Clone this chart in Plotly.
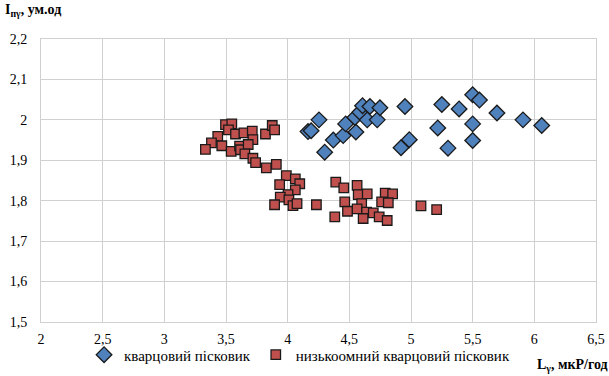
import plotly.graph_objects as go

# кварцовий пісковик
blue_x = [4.254, 4.165, 4.19, 4.30, 4.37, 4.45, 4.47, 4.553, 4.545, 4.585, 4.607, 4.667,
          4.645, 4.726, 4.748, 4.951, 4.919, 4.986, 5.25, 5.217, 5.39, 5.30, 5.50, 5.555,
          5.50, 5.50, 5.697, 5.908, 6.06]
blue_y = [2.0, 1.971, 1.973, 1.92, 1.95, 1.961, 1.99, 1.97, 2.006, 2.019, 2.035, 2.033,
          2.0, 2.0, 2.03, 2.033, 1.931, 1.951, 2.038, 1.98, 2.027, 1.93, 2.062, 2.049,
          1.99, 1.949, 2.017, 2.0, 1.986]

# низькоомний кварцовий пісковик
red_x = [3.496, 3.547, 3.52, 3.577, 3.645, 3.713, 3.718, 3.433, 3.382, 3.333, 3.466, 3.542,
         3.61, 3.618, 3.68, 3.653, 3.718, 3.74, 3.82, 3.875, 3.894, 3.827, 3.908,
         3.989, 4.062, 4.098, 3.935, 4.062, 4.003, 3.94, 4.01, 3.894, 4.043, 4.076, 4.233,
         4.39, 4.455, 4.563, 4.572, 4.645, 4.791, 4.851, 4.762, 4.816, 4.463, 4.60, 4.563,
         4.485, 4.64, 4.694, 4.742, 4.807, 4.612, 4.382, 5.081, 5.208]
red_y = [1.988, 1.99, 1.975, 1.965, 1.968, 1.972, 1.951, 1.959, 1.943, 1.927, 1.936, 1.922,
         1.935, 1.926, 1.939, 1.916, 1.905, 1.894, 1.965, 1.986, 1.975, 1.881, 1.89,
         1.862, 1.854, 1.842, 1.84, 1.827, 1.815, 1.809, 1.802, 1.79, 1.788, 1.793, 1.79,
         1.846, 1.832, 1.838, 1.815, 1.817, 1.819, 1.817, 1.797, 1.795, 1.797, 1.793, 1.78,
         1.774, 1.772, 1.77, 1.76, 1.751, 1.756, 1.76, 1.787, 1.778]

x_ticks = [2, 2.5, 3, 3.5, 4, 4.5, 5, 5.5, 6, 6.5]
x_labels = ["2", "2,5", "3", "3,5", "4", "4,5", "5", "5,5", "6", "6,5"]
y_ticks = [1.5, 1.6, 1.7, 1.8, 1.9, 2.0, 2.1, 2.2]
y_labels = ["1,5", "1,6", "1,7", "1,8", "1,9", "2", "2,1", "2,2"]

FONT = "'Liberation Serif', 'Times New Roman', 'DejaVu Serif', serif"

fig = go.Figure()
fig.add_trace(go.Scatter(
    x=blue_x, y=blue_y, mode="markers", name="кварцовий пісковик",
    marker=dict(symbol="diamond", size=12, color="#4F81BD",
                line=dict(color="#1a1a1a", width=1.3)),
))
fig.add_trace(go.Scatter(
    x=red_x, y=red_y, mode="markers", name="низькоомний кварцовий пісковик",
    marker=dict(symbol="square", size=9.5, color="#C0504D",
                line=dict(color="#1a1a1a", width=1.3)),
))

fig.update_layout(
    width=609, height=376,
    margin=dict(l=41, r=13, t=39, b=54, autoexpand=False),
    paper_bgcolor="white", plot_bgcolor="white",
    font=dict(family=FONT, size=14, color="black"),
    showlegend=True,
    legend=dict(orientation="h", xref="container", yref="container",
                x=0.138, xanchor="left", y=0.056, yanchor="middle",
                font=dict(family=FONT, size=15, color="black"),
                itemwidth=30, tracegroupgap=0, bgcolor="rgba(0,0,0,0)"),
    xaxis=dict(range=[2, 6.5], tickvals=x_ticks, ticktext=x_labels,
               showgrid=True, gridcolor="#d0d0d0", gridwidth=1,
               showline=True, linecolor="#d0d0d0", mirror=True,
               zeroline=False, ticks="", ticklen=0, ticklabelstandoff=4,
               tickfont=dict(family=FONT, size=14)),
    yaxis=dict(range=[1.5, 2.2], tickvals=y_ticks, ticktext=y_labels,
               showgrid=True, gridcolor="#d0d0d0", gridwidth=1,
               showline=True, linecolor="#d0d0d0", mirror=True,
               zeroline=False, ticks="", ticklen=0, ticklabelstandoff=10,
               tickfont=dict(family=FONT, size=14)),
    annotations=[
        dict(text="<b>I<sub>пγ</sub>, ум.од</b>", xref="paper", yref="paper",
             x=-0.068, y=1.1, xanchor="left", yanchor="middle", showarrow=False,
             font=dict(family=FONT, size=14, color="black")),
        dict(text="<b>L<sub>γ</sub>, мкР/год</b>", xref="paper", yref="paper",
             x=1.025, y=-0.155, xanchor="right", yanchor="middle", showarrow=False,
             font=dict(family=FONT, size=14, color="black")),
    ],
)

fig.write_html("out.html")
